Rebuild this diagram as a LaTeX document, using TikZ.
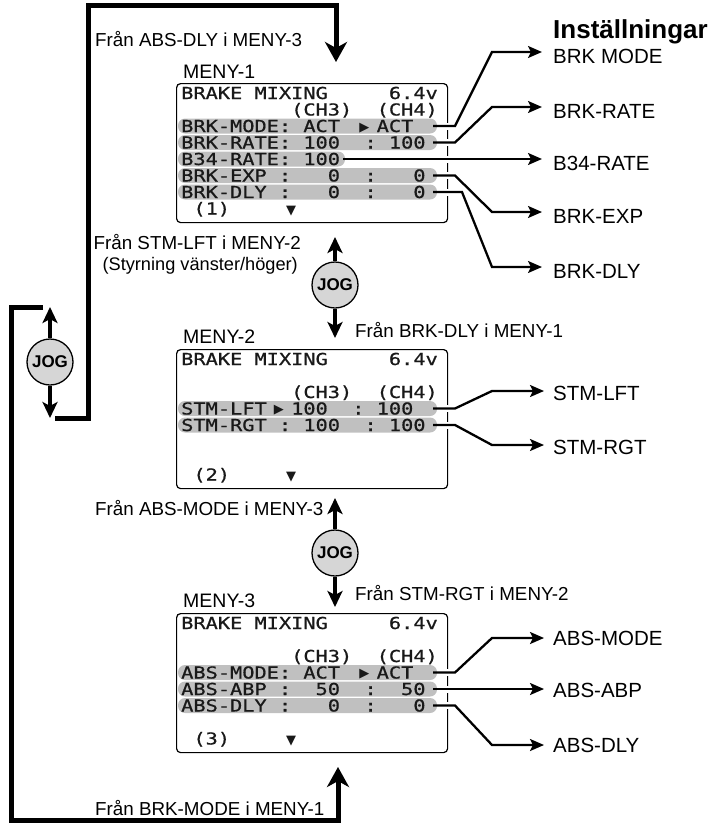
\documentclass[tikz,border=0pt]{standalone}
\usepackage{fontspec}
\setmainfont{Liberation Sans}
\newfontfamily\lcd[FakeStretch=1.23,FakeBold=0.8]{DejaVu Sans Mono}
\newfontfamily\symf{DejaVu Sans}
\usetikzlibrary{arrows.meta}
\definecolor{bargray}{RGB}{192,192,192}
\definecolor{joggray}{RGB}{214,214,214}
\newlength\colw
\newcommand\lcdsz{\fontsize{16.5}{16.5}\selectfont}
\newcommand\rtri{\makebox[\colw]{\raisebox{1pt}{\symf\fontsize{13}{13}\selectfont ▶}}}
\newcommand\dtri{\makebox[\colw]{\symf\fontsize{13}{13}\selectfont ▼}}
\tikzset{
  lcdtxt/.style={anchor=base west, inner sep=0pt, font=\lcd\lcdsz, text=black!90},
  scr/.style={draw, line width=1.2pt, rounded corners=4pt, anchor=north west, inner sep=0pt},
  barfill/.style={fill=bargray, rounded corners=7pt},
  conn/.style={line width=2.3pt, -{Stealth[length=14pt,width=12pt,inset=3pt]}},
  lbl/.style={anchor=base west, inner sep=0pt, font=\fontsize{20.5}{22}\selectfont},
  side/.style={inner sep=0pt, font=\fontsize{18.8}{20}\selectfont},
  small/.style={inner sep=0pt, font=\fontsize{18.2}{20}\selectfont},
  meny/.style={anchor=base west, inner sep=0pt, font=\fontsize{19.5}{21}\selectfont},
  bigloop/.style={line width=5pt, -{Stealth[length=20pt,width=22pt,inset=6pt]}},
  jog/.style={circle, draw, line width=1.3pt, fill=joggray, minimum size=46pt, inner sep=0pt, font=\bfseries\fontsize{17}{17}\selectfont},
  jarr/.style={line width=4pt, -{Stealth[length=16pt,width=15pt,inset=4pt]}},
  gap/.style={fill=white}
}
\begin{document}
\begin{tikzpicture}[x=1pt,y=-1pt]
\settowidth{\colw}{\lcd\lcdsz M}
\useasboundingbox (0,0) rectangle (713,825);

% ---------- screens ----------
\node[scr, minimum width=271pt, minimum height=139pt] (s1) at (176,83) {};
\node[scr, minimum width=271pt, minimum height=139pt] (s2) at (176,349) {};
\node[scr, minimum width=271pt, minimum height=139pt] (s3) at (176,613) {};

% bars screen 1
\fill[barfill] (178,118.5) rectangle (437,133.5);
\fill[barfill] (178,135) rectangle (437,150);
\fill[barfill] (178,151.5) rectangle (345,166.5);
\fill[barfill] (178,168) rectangle (437,183);
\fill[barfill] (178,184.5) rectangle (437,199.5);
% bars screen 2
\fill[barfill] (178,401) rectangle (437,416);
\fill[barfill] (178,417.5) rectangle (437,432.5);
% bars screen 3
\fill[barfill] (178,665) rectangle (437,680);
\fill[barfill] (178,681.5) rectangle (437,696.5);
\fill[barfill] (178,698) rectangle (437,713);

% screen 1 text
\node[lcdtxt] (a1) at (181,99) {BRAKE~MIXING~~~~~6.4v};
\node[lcdtxt] (a2) at (181,115.5) {~~~~~~~~~(CH3)~~(CH4)};
\node[lcdtxt] (a3) at (181,132) {BRK-MODE:~ACT~~\rtri~ACT};
\node[lcdtxt] (a4) at (181,148.5) {BRK-RATE:~100~~:~100};
\node[lcdtxt] (a5) at (181,165) {B34-RATE:~100};
\node[lcdtxt] (a6) at (181,181.5) {BRK-EXP~:~~~0~~:~~~0};
\node[lcdtxt] (a7) at (181,198) {BRK-DLY~:~~~0~~:~~~0};
\node[lcdtxt] (a8) at (181,214.5) {~(1)~~~~~\dtri};
% screen 2 text
\node[lcdtxt] (b1) at (181,365) {BRAKE~MIXING~~~~~6.4v};
\node[lcdtxt] (b3) at (181,398) {~~~~~~~~~(CH3)~~(CH4)};
\node[lcdtxt] (b4) at (181,414.5) {STM-LFT~\rtri~100~~:~100};
\node[lcdtxt] (b5) at (181,431) {STM-RGT~:~100~~:~100};
\node[lcdtxt] (b8) at (181,480.5) {~(2)~~~~~\dtri};
% screen 3 text
\node[lcdtxt] (c1) at (181,629) {BRAKE~MIXING~~~~~6.4v};
\node[lcdtxt] (c3) at (181,662) {~~~~~~~~~(CH3)~~(CH4)};
\node[lcdtxt] (c4) at (181,678.5) {ABS-MODE:~ACT~~\rtri~ACT};
\node[lcdtxt] (c5) at (181,695) {ABS-ABP~:~~50~~:~~50};
\node[lcdtxt] (c6) at (181,711.5) {ABS-DLY~:~~~0~~:~~~0};
\node[lcdtxt] (c8) at (181,744.5) {~(3)~~~~~\dtri};

% menu titles
\node[meny] (m1) at (183,78) {MENY-1};
\node[meny] (m2) at (183,343) {MENY-2};
\node[meny] (m3) at (183,607) {MENY-3};

% heading and labels
\node[anchor=base west, inner sep=0pt, font=\bfseries\fontsize{26}{28}\selectfont] (hd) at (553,38) {Inställningar};
\node[lbl] (l1) at (553,63) {BRK MODE};
\node[lbl] (l2) at (553,118) {BRK-RATE};
\node[lbl] (l3) at (553,170) {B34-RATE};
\node[lbl] (l4) at (553,223) {BRK-EXP};
\node[lbl] (l5) at (553,278) {BRK-DLY};
\node[lbl] (l6) at (553,400) {STM-LFT};
\node[lbl] (l7) at (553,454) {STM-RGT};
\node[lbl] (l8) at (553,645.5) {ABS-MODE};
\node[lbl] (l9) at (553,697) {ABS-ABP};
\node[lbl] (l10) at (553,752) {ABS-DLY};

% connector ends
\coordinate (p1) at (433,126);   \coordinate (t1) at (542,52);
\coordinate (p2) at (433,142.5); \coordinate (t2) at (542,107);
\coordinate (p3) at (343,159);   \coordinate (t3) at (542,159);
\coordinate (p4) at (433,175.5); \coordinate (t4) at (542,212);
\coordinate (p5) at (433,192);   \coordinate (t5) at (542,267);
\coordinate (p6) at (433,408.5); \coordinate (t6) at (544,391);
\coordinate (p7) at (433,425);   \coordinate (t7) at (544,445);
\coordinate (p8) at (433,672.5); \coordinate (t8) at (544,638);
\coordinate (p9) at (433,689);   \coordinate (t9) at (544,689);
\coordinate (p10) at (433,705.5);\coordinate (t10) at (544,745);

% gaps in screen borders
\foreach \yy in {126,142.5,159,175.5,192,408.5,425,672.5,689,705.5}
  \fill[gap] (445,\yy-3.5) rectangle (449,\yy+3.5);

\draw[conn] (p1) -- (455,126) -- (492,52) -- (t1);
\draw[conn] (p2) -- (455,142.5) -- (492,107) -- (t2);
\draw[conn] (p3) -- (t3);
\draw[conn] (p4) -- (455,175.5) -- (492,212) -- (t4);
\draw[conn] (p5) -- (462,192) -- (492,267) -- (t5);
\draw[conn] (p6) -- (455,408.5) -- (492,391) -- (t6);
\draw[conn] (p7) -- (455,425) -- (492,445) -- (t7);
\draw[conn] (p8) -- (455,672.5) -- (492,638) -- (t8);
\draw[conn] (p9) -- (t9);
\draw[conn] (p10) -- (455,705.5) -- (492,745) -- (t10);

% JOG buttons
\node[jog] (jA) at (50,362) {JOG};
\node[jog] (jB) at (335,285) {JOG};
\node[jog] (jC) at (335,553) {JOG};
\coordinate (jAu) at (50,307);
\coordinate (jAd) at (50,418);
\coordinate (jBu) at (335,237);
\coordinate (jBd) at (335,338);
\coordinate (jCu) at (335,498);
\coordinate (jCd) at (335,607);
\draw[jarr] (jA.north) -- (jAu);
\draw[jarr] (jA.south) -- (jAd);
\draw[jarr] (jB.north) -- (jBu);
\draw[jarr] (jB.south) -- (jBd);
\draw[jarr] (jC.north) -- (jCu);
\draw[jarr] (jC.south) -- (jCd);

% big loops
\coordinate (la) at (55,418);
\coordinate (lat) at (336,62);
\coordinate (lb) at (43,307);
\coordinate (lbt) at (338,767);
\draw[bigloop] (la) -- (88,418) -- (88,5) -- (336,5) -- (lat);
\draw[bigloop] (lb) -- (11,307) -- (11,820) -- (338,820) -- (lbt);

% side texts
\node[side, anchor=base west] (f1) at (95,46) {Från ABS-DLY i MENY-3};
\node[side, anchor=base east] (f2) at (301,249) {Från STM-LFT i MENY-2};
\node[small, anchor=base east] (f3) at (298,270) {(Styrning vänster/höger)};
\node[side, anchor=base west] (f4) at (355,337) {Från BRK-DLY i MENY-1};
\node[side, anchor=base west] (f5) at (95,515) {Från ABS-MODE i MENY-3};
\node[side, anchor=base west] (f6) at (355,600) {Från STM-RGT i MENY-2};
\node[side, anchor=base west] (f7) at (95,815) {Från BRK-MODE i MENY-1};
\end{tikzpicture}
\end{document}
